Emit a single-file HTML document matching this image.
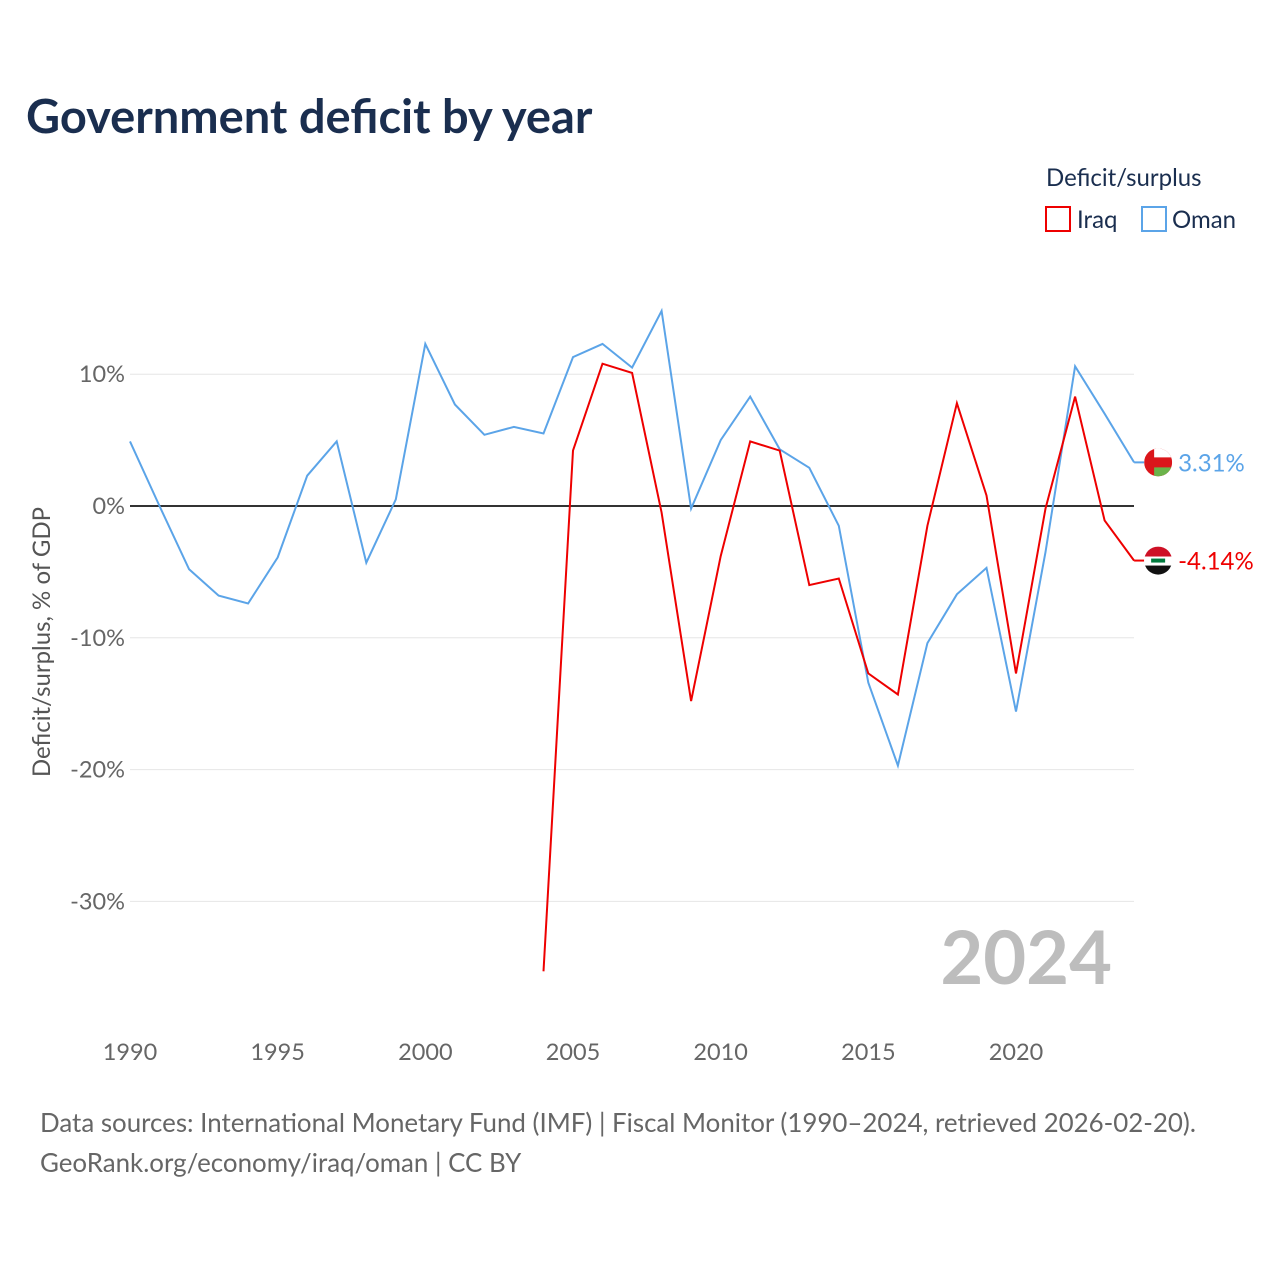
<!DOCTYPE html>
<html><head><meta charset="utf-8"><style>
body{margin:0;background:#fff;font-family:"Liberation Sans",sans-serif}
svg text{font-family:"Lato","Liberation Sans",sans-serif}
</style></head><body>
<svg width="1280" height="1280" viewBox="0 0 1280 1280">
<text x="26" y="133" font-size="47" font-weight="bold" fill="#1a2e4f">Government deficit by year</text>
<text x="1046" y="186" font-size="24" fill="#1a2e4f">Deficit/surplus</text>
<g><rect x="1046" y="207" width="24" height="24" fill="none" stroke="#e00" stroke-width="2"/><text x="1077" y="228" font-size="24" fill="#1a2e4f">Iraq</text></g>
<g><rect x="1142" y="207" width="24" height="24" fill="none" stroke="#5ba4e8" stroke-width="2"/><text x="1172" y="228" font-size="24" fill="#1a2e4f">Oman</text></g>
<g id="grid"></g><g id="lines"></g>
<text x="1112" y="984" font-size="74" font-weight="bold" fill="#bdbdbd" text-anchor="end">2024</text>
<text transform="translate(50,642) rotate(-90)" font-size="24" fill="#555" text-anchor="middle">Deficit/surplus, % of GDP</text>
<text x="40" y="1132" font-size="25.9" fill="#666">Data sources: International Monetary Fund (IMF) | Fiscal Monitor (1990–2024, retrieved 2026-02-20).</text>
<text x="40" y="1172" font-size="25.9" fill="#666">GeoRank.org/economy/iraq/oman | CC BY</text>
</svg>
<script>
const years=[];for(let y=1990;y<=2024;y++)years.push(y);
const omanValues=[4.9,0.0,-4.8,-6.8,-7.4,-3.9,2.3,4.9,-4.3,0.5,12.3,7.7,5.4,6.0,5.5,11.3,12.3,10.5,14.8,-0.2,5.0,8.3,4.3,2.9,-1.5,-13.4,-19.7,-10.4,-6.7,-4.7,-15.6,-3.5,10.6,7.0,3.31];
const iraqValues=[null,null,null,null,null,null,null,null,null,null,null,null,null,null,-35.3,4.2,10.8,10.1,-0.5,-14.8,-3.8,4.9,4.2,-6.0,-5.5,-12.7,-14.3,-1.5,7.8,0.8,-12.7,-0.2,8.3,-1.1,-4.14];
const yTicks=[10,0,-10,-20,-30];
const xTicks=[1990,1995,2000,2005,2010,2015,2020];
const X=y=>130+(y-1990)*(886/30), Y=v=>506-v*13.18;
const NS="http://www.w3.org/2000/svg";
const g=document.getElementById('grid'), L=document.getElementById('lines');
function mk(p,t,a){const e=document.createElementNS(NS,t);for(const k in a)e.setAttribute(k,a[k]);p.appendChild(e);return e;}
yTicks.forEach(v=>{
 const l=mk(g,'line',{x1:130,x2:1134,y1:Y(v),y2:Y(v),stroke:v===0?'#333':'#e6e6e6','stroke-width':v===0?2:1});
 
 
 const t=mk(g,'text',{x:125,y:Y(v)+8,'font-size':23.5,fill:'#666','text-anchor':'end'});t.textContent=v+'%';
 
 
});
xTicks.forEach(y=>{const t=mk(g,'text',{x:X(y),y:1060,'font-size':23.5,fill:'#666','text-anchor':'middle'});t.textContent=y;
 
 });
function line(vals,col,name){let d='';vals.forEach((v,i)=>{if(v==null)return;d+=(d?'L':'M')+X(years[i]).toFixed(1)+','+Y(v).toFixed(1);});
 const p=mk(L,'path',{d:d,fill:'none',stroke:col,'stroke-width':2});
 
 }
line(omanValues,'#5ba4e8','oman-line');line(iraqValues,'#e00','iraq-line');
mk(L,'line',{x1:X(2024),x2:X(2024)+10,y1:Y(-4.14),y2:Y(-4.14),stroke:'#e00','stroke-width':2});
mk(L,'line',{x1:X(2024),x2:X(2024)+10,y1:Y(3.31),y2:Y(3.31),stroke:'#5ba4e8','stroke-width':2});
function end(v,col,name,drawFlag){const x=X(2024)+24,y=Y(v);
 const grp=mk(L,'g',{});
 
 
 mk(grp,'clipPath',{id:'c'+name}).appendChild(Object.assign(document.createElementNS(NS,'circle'),{}));
 grp.querySelector('clipPath circle').setAttribute('cx',x);grp.querySelector('clipPath circle').setAttribute('cy',y);grp.querySelector('clipPath circle').setAttribute('r',14);
 const fg=mk(grp,'g',{'clip-path':'url(#c'+name+')'});
 drawFlag(fg,x,y);
 const t=mk(L,'text',{x:x+20,y:y+9,'font-size':24,fill:col});t.textContent=v.toFixed(2)+'%';
 
 }
end(omanValues[34],'#5ba4e8','oman',(p,x,y)=>{
 mk(p,'rect',{x:x-14,y:y-14,width:28,height:28,fill:'#db161b'});
 mk(p,'rect',{x:x-4,y:y-14,width:18,height:9,fill:'#fff'});
 mk(p,'rect',{x:x-4,y:y+5,width:18,height:9,fill:'#6bb34a'});
});
end(iraqValues[34],'#e00','iraq',(p,x,y)=>{
 mk(p,'rect',{x:x-14,y:y-14,width:28,height:10,fill:'#ce1126'});
 mk(p,'rect',{x:x-14,y:y-4,width:28,height:9,fill:'#fff'});
 mk(p,'rect',{x:x-14,y:y+5,width:28,height:10,fill:'#111'});
 mk(p,'rect',{x:x-7,y:y-2,width:14,height:4,fill:'#007a3d'});
});
</script>
</body></html>
